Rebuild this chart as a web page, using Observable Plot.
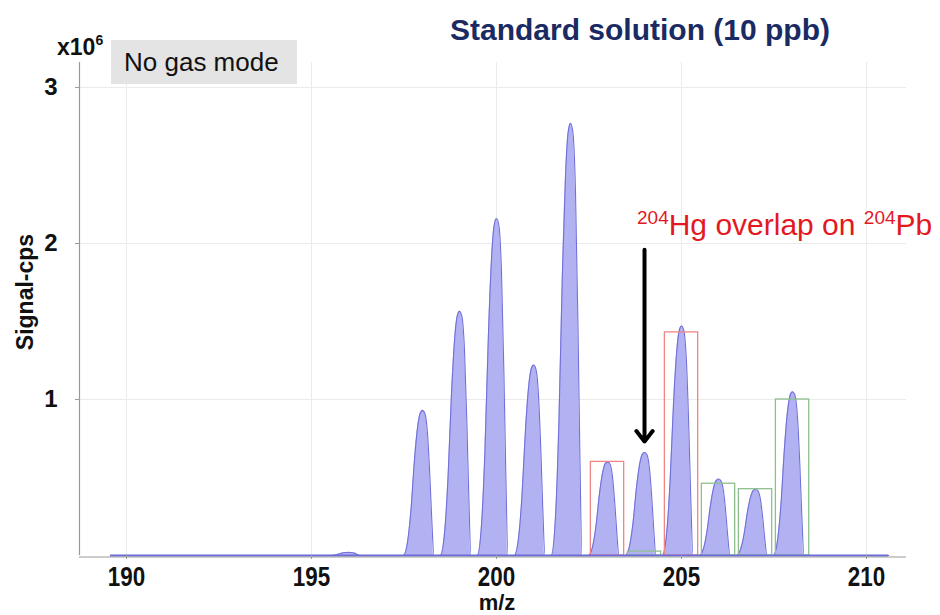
<!DOCTYPE html>
<html>
<head>
<meta charset="utf-8">
<script src="https://cdn.jsdelivr.net/npm/d3@7"></script>
<script src="https://cdn.jsdelivr.net/npm/@observablehq/plot@0.6"></script>
<style>
  body { margin: 0; background: #fff; }
  #wrap { position: relative; width: 940px; height: 615px; font-family: "Liberation Sans", Arial, sans-serif; }
  #wrap svg { position: absolute; left: 0; top: 0; }
  .ov { position: absolute; white-space: nowrap; line-height: 1; }
</style>
</head>
<body>
<div id="wrap"></div>
<script>
// ---- data ----
const peakMass   = [196, 198, 199, 200, 201, 202, 203, 204, 205, 206, 207, 208];
const peakHeight = [0.02, 0.93, 1.565, 2.16, 1.22, 2.77, 0.60, 0.66, 1.47, 0.49, 0.425, 1.05]; // x10^6 cps
// common peak profile (offset in m/z from peak centre, fraction of peak height)
const profileOffset = [-0.52, -0.40, -0.31, -0.22, -0.135, -0.063, 0, 0.063, 0.135, 0.20, 0.25, 0.31];
const profileShape  = [0, 0.10, 0.32, 0.65, 0.88, 0.98, 1, 0.98, 0.84, 0.54, 0.25, 0];
const scanRange = [189.57, 210.6];

// red boxes (Tl 203, 205) and green boxes (Pb 204, 206, 207, 208)
const redMass = [203, 205];
const redHeight = [0.60, 1.43];
const greenMass = [204, 206, 207, 208];
const greenHeight = [0.025, 0.46, 0.425, 1.0];
const boxHalfWidth = 0.45;

// arrow at m/z 204
const arrowMass = [204];
const arrowFrom = [1.96];
const arrowTo = [0.73];

const xTicks = [190, 195, 200, 205, 210];
const yTicks = [1, 2, 3];

// ---- build tables ----
const spectrum = [{x: scanRange[0], y: 0}];
peakMass.forEach((m, i) => {
  profileOffset.forEach((o, j) => spectrum.push({x: m + o, y: peakHeight[i] * profileShape[j]}));
});
spectrum.push({x: scanRange[1], y: 0});
spectrum.sort((a, b) => a.x - b.x);

const redBoxes = redMass.map((m, i) => ({x1: m - boxHalfWidth, x2: m + boxHalfWidth, y: redHeight[i]}));
const greenBoxes = greenMass.map((m, i) => ({x1: m - boxHalfWidth, x2: m + boxHalfWidth, y: greenHeight[i]}));
const arrows = arrowMass.map((m, i) => ({x: m, y1: arrowFrom[i], y2: arrowTo[i]}));

const font = '"Liberation Sans", Arial, sans-serif';

const chart = Plot.plot({
  width: 940,
  height: 615,
  marginLeft: 79,
  marginRight: 34,
  marginTop: 62,
  marginBottom: 60,
  style: {fontFamily: font, fontSize: "24px", fontWeight: "bold", color: "#111", background: "white"},
  x: {domain: [188.73, 211.08]},
  y: {domain: [0, 3.16]},
  marks: [
    Plot.gridX(xTicks, {stroke: "#ebebeb", strokeOpacity: 1}),
    Plot.gridY(yTicks, {stroke: "#ebebeb", strokeOpacity: 1}),
    Plot.areaY(spectrum, {x: "x", y: "y", curve: "monotone-x", fill: "#b2b2f3", fillOpacity: 1}),
    Plot.lineY(spectrum, {x: "x", y: "y", curve: "monotone-x", stroke: "#7070d8", strokeWidth: 1.1}),
    Plot.rect(redBoxes, {x1: "x1", x2: "x2", y1: 0, y2: "y", fill: "none", stroke: "#f08585", strokeWidth: 1.3}),
    Plot.rect(greenBoxes, {x1: "x1", x2: "x2", y1: 0, y2: "y", fill: "none", stroke: "#8ec08e", strokeWidth: 1.3}),
    Plot.ruleY([0], {stroke: "#6a6ad8", strokeWidth: 2, x1: scanRange[0], x2: scanRange[1]}),
    Plot.arrow(arrows, {x1: "x", x2: "x", y1: "y1", y2: "y2", stroke: "black", strokeWidth: 4, headLength: 5, headAngle: 75}),
    Plot.axisX(xTicks, {className: "xt", tickSize: 4, tickPadding: 7, stroke: "#999", fontSize: 28, label: null}),
    Plot.axisY(yTicks, {tickSize: 4, tickPadding: 18, stroke: "#999", fontSize: 24, tickFormat: d => String(d), label: null}),
    Plot.ruleX([188.73], {stroke: "#999", strokeWidth: 1.2}),
    Plot.ruleY([0], {stroke: "#999", strokeWidth: 1.2, x1: 188.73, x2: 211.08, dy: 1.5})
  ]
});

// condensed look of the x tick labels
d3.select(chart).selectAll(".xt text").each(function () {
  const t = this.getAttribute("transform") || "";
  this.setAttribute("transform", t + " scale(0.8,1)");
});

const wrap = document.getElementById("wrap");
wrap.appendChild(chart);

function ov(html, css) {
  const d = document.createElement("div");
  d.className = "ov";
  d.innerHTML = html;
  Object.assign(d.style, css);
  wrap.appendChild(d);
  return d;
}
ov("Standard solution (10 ppb)", {left: "640px", top: "15px", transform: "translateX(-50%)", fontSize: "30px", fontWeight: "bold", color: "#1a2a62"});
ov('x10<sup style="font-size:14px;vertical-align:10px">6</sup>', {left: "57px", top: "33px", fontSize: "23px", fontWeight: "bold", color: "#111"});
ov("No gas mode", {left: "111px", top: "40px", width: "186px", height: "44px", background: "#e4e4e4", fontSize: "26px", color: "#111", lineHeight: "44px", paddingLeft: "13px", boxSizing: "border-box"});
ov('<sup style="font-size:19px;vertical-align:11px">204</sup>Hg overlap on <sup style="font-size:19px;vertical-align:11px">204</sup>Pb', {left: "637px", top: "208px", fontSize: "30px", color: "#e3191f"});
ov("Signal-cps", {left: "25px", top: "292px", transform: "translate(-50%,-50%) rotate(-90deg)", fontSize: "23px", fontWeight: "bold", color: "#111"});
ov("m/z", {left: "497px", top: "592px", transform: "translateX(-50%)", fontSize: "22px", fontWeight: "bold", color: "#111"});
</script>
</body>
</html>
